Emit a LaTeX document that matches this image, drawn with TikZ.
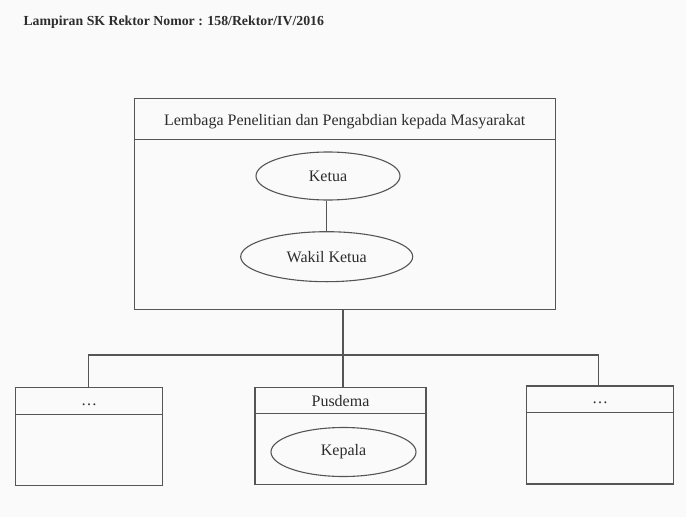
\documentclass[tikz,border=0pt]{standalone}
\usepackage{fontspec}
\setmainfont{Liberation Serif}
\usetikzlibrary{shapes.geometric,calc}
\definecolor{bg}{RGB}{250,250,250}
\definecolor{ln}{RGB}{85,85,85}
\definecolor{tx}{RGB}{45,45,45}
\begin{document}
\begin{tikzpicture}[x=1pt,y=-1pt,
  box/.style={draw=ln,line width=1.1pt,rectangle,inner sep=0pt},
  oval/.style={draw=ln,line width=1.1pt,ellipse,inner sep=0pt,text=tx,font=\fontsize{16}{18}\selectfont},
  lbl/.style={text=tx,inner sep=0pt,font=\fontsize{16}{18}\selectfont},
  conn/.style={draw=ln,line width=1.1pt}]
\fill[bg] (0,0) rectangle (686,517);
\useasboundingbox (0,0) rectangle (686,517);
% header
\node[anchor=west,text=tx,inner sep=0pt,font=\bfseries\fontsize{13.8}{16}\selectfont] (hdr) at (23.3,21.7) {Lampiran SK Rektor Nomor : 158/Rektor/IV/2016};
% main box
\node[box,minimum width=421pt,minimum height=211pt] (lppm) at (344.7,203.8) {};
\draw[conn] ($(lppm.north west)+(0,41.7)$) coordinate (dl) -- (dl -| lppm.east);
\node[lbl] (lppmt) at (344.7,121.7) {Lembaga Penelitian dan Pengabdian kepada Masyarakat};
\node[oval,minimum width=144pt,minimum height=48pt] (ketua) at (328,176) {Ketua};
\node[oval,minimum width=172pt,minimum height=50pt] (wakil) at (326.7,256.7) {Wakil Ketua};
\draw[conn] (ketua.south -| 326.7,0) -- (wakil.north -| 326.7,0);
% bottom boxes
\node[box,minimum width=146.6pt,minimum height=98pt] (left) at (89,436.7) {};
\draw[conn] (left.west |- 0,414.3) -- (left.east |- 0,414.3);
\node[lbl] (leftt) at (89,405) {\dots};
\node[box,minimum width=171pt,minimum height=97.3pt] (pus) at (340.5,435.7) {};
\draw[conn] (pus.west |- 0,413.3) -- (pus.east |- 0,413.3);
\node[lbl] (pust) at (340.5,401.5) {Pusdema};
\node[oval,minimum width=145pt,minimum height=49pt] (kepala) at (343.5,452) {Kepala};
\node[box,minimum width=146.6pt,minimum height=98pt] (right) at (600,435) {};
\draw[conn] (right.west |- 0,412.7) -- (right.east |- 0,412.7);
\node[lbl] (rightt) at (600,403) {\dots};
% connectors
\coordinate (jl) at (88.3,355);
\coordinate (jc) at (343,355);
\coordinate (jr) at (598.3,355);
\draw[conn] (lppm.south -| jc) -- (jc);
\draw[conn] (jl |- left.north) -- (jl) -- (jr) -- (jr |- right.north);
\draw[conn] (jc) -- (jc |- pus.north);
\end{tikzpicture}
\end{document}
